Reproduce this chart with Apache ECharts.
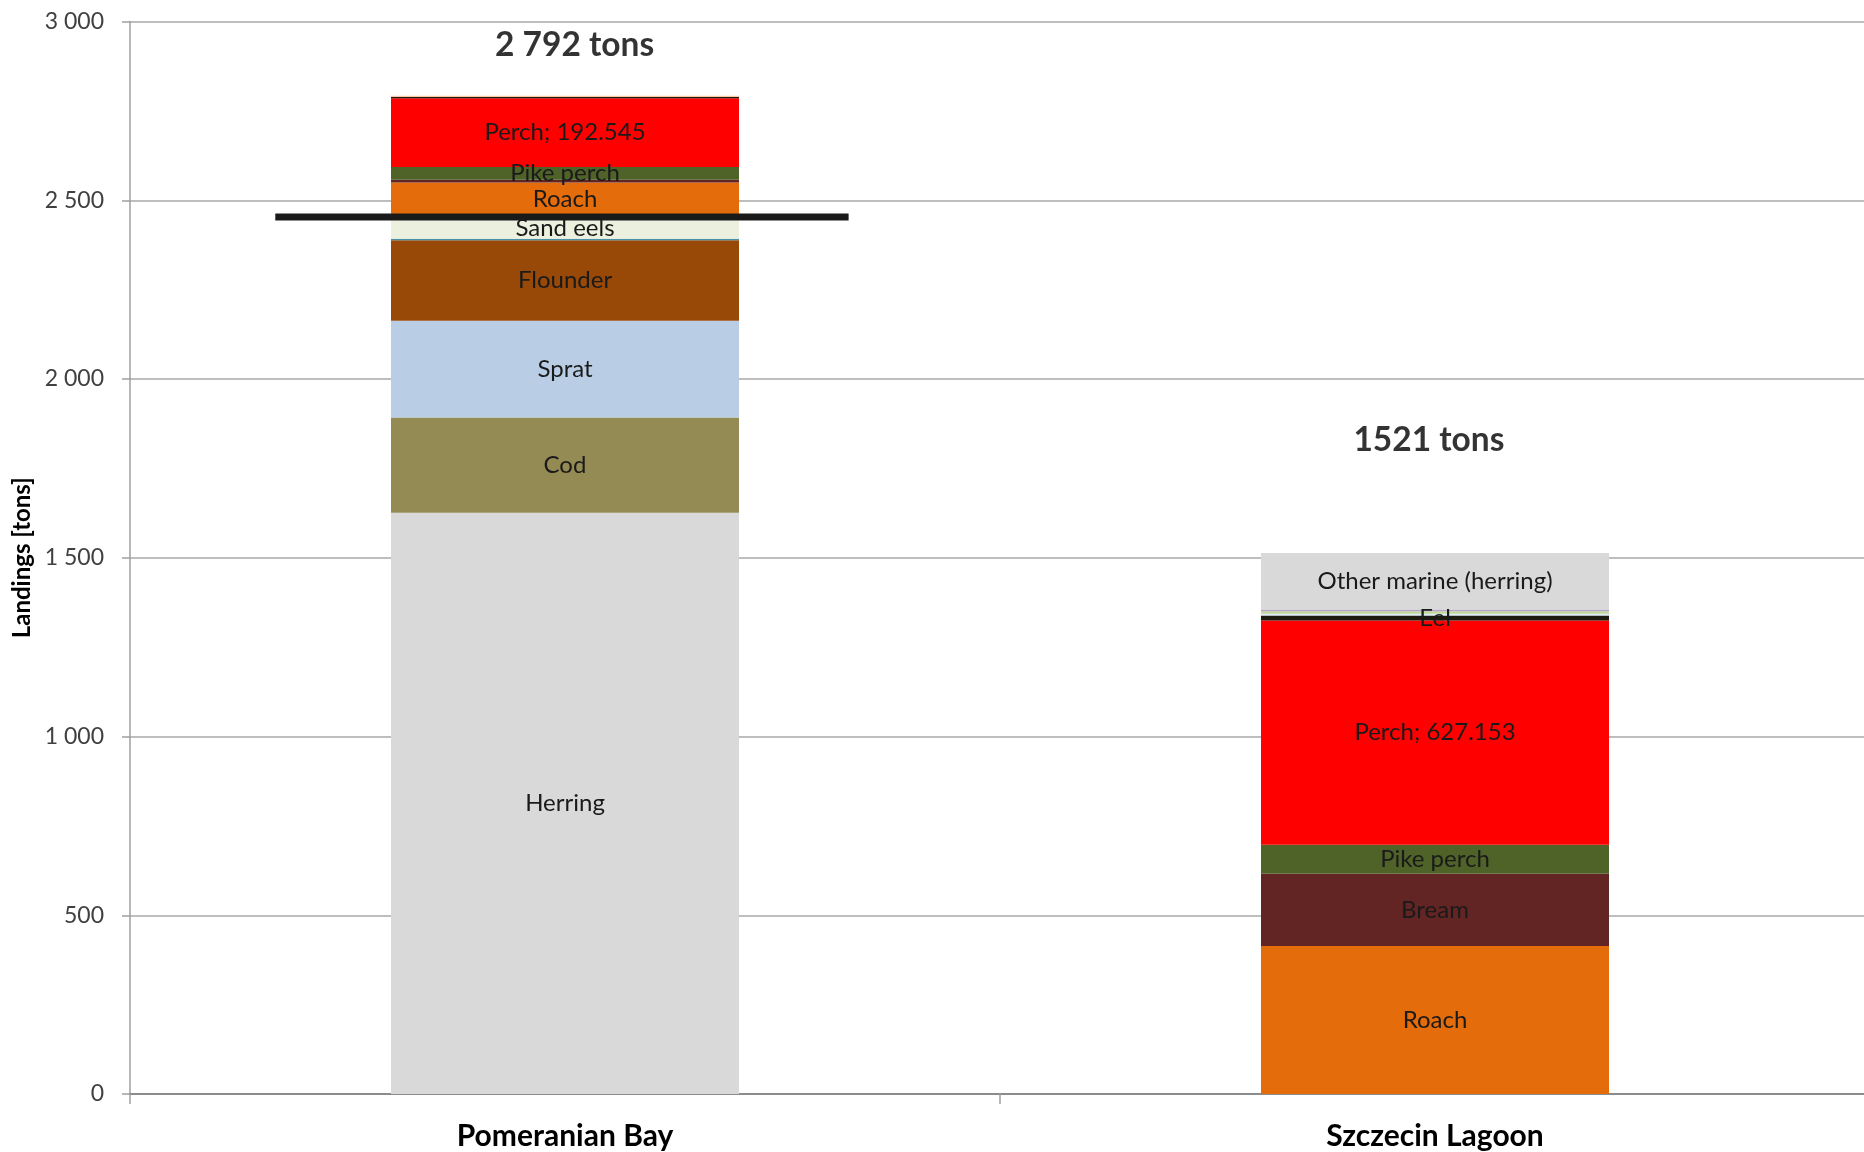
<!DOCTYPE html>
<html>
<head>
<meta charset="utf-8">
<script src="https://cdn.jsdelivr.net/npm/echarts@6/dist/echarts.min.js"></script>
<style>
  html, body { margin: 0; padding: 0; background: #fff; }
  #chart { width: 1864px; height: 1152px; }
</style>
</head>
<body>
<div id="chart"></div>
<script>
// ---- data ----
const categories = ['Pomeranian Bay', 'Szczecin Lagoon'];

const herring     = [1626, 0];
const cod         = [266, 0];
const sprat       = [271, 0];
const flounder    = [225, 0];
const minorBlue   = [4, 0];
const sandEels    = [62, 0];
const roach       = [96, 414];
const bream       = [7, 202];
const pikePerch   = [36, 81];
const perch       = [192.545, 627.153];
const eel         = [3, 14];
const minorCyan   = [0, 5];
const minorGreen  = [0, 7];
const minorPurple = [0, 5];
const otherMarine = [0, 158];
const minorPeach  = [4, 0];

const totalsText   = ['2 792 tons', '1521 tons'];
const totalsAnchor = [[0.511, 2934], [1.493, 1830]];   // [x on category scale 0..2, tons]
const refLine      = [[0.167, 2453], [0.826, 2453]];   // black line, tons
const yTicks       = { min: 0, max: 3000, interval: 500 };

// series table (stack order bottom -> top)
const layers = [
  { name: 'Herring',                values: herring,     labels: ['Herring', ''] },
  { name: 'Cod',                    values: cod,         labels: ['Cod', ''] },
  { name: 'Sprat',                  values: sprat,       labels: ['Sprat', ''] },
  { name: 'Flounder',               values: flounder,    labels: ['Flounder', ''] },
  { name: 'Other (blue)',           values: minorBlue,   labels: ['', ''] },
  { name: 'Sand eels',              values: sandEels,    labels: ['Sand eels', ''] },
  { name: 'Roach',                  values: roach,       labels: ['Roach', 'Roach'] },
  { name: 'Bream',                  values: bream,       labels: ['', 'Bream'] },
  { name: 'Pike perch',             values: pikePerch,   labels: ['Pike perch', 'Pike perch'] },
  { name: 'Perch',                  values: perch,       labels: ['Perch; {v}', 'Perch; {v}'] },
  { name: 'Eel',                    values: eel,         labels: ['', 'Eel'] },
  { name: 'Other (cyan)',           values: minorCyan,   labels: ['', ''] },
  { name: 'Other (green)',          values: minorGreen,  labels: ['', ''] },
  { name: 'Other (purple)',         values: minorPurple, labels: ['', ''] },
  { name: 'Other marine (herring)', values: otherMarine, labels: ['', 'Other marine (herring)'] },
  { name: 'Other (peach)',          values: minorPeach,  labels: ['', ''] }
];

// ---- styles ----
const colors = {
  'Herring': '#d9d9d9', 'Cod': '#948a54', 'Sprat': '#b9cde5', 'Flounder': '#984807',
  'Other (blue)': '#4a90a8', 'Sand eels': '#ebf1de', 'Roach': '#e46c0a', 'Bream': '#632523',
  'Pike perch': '#4f6228', 'Perch': '#ff0000', 'Eel': '#1d1b10', 'Other (cyan)': '#dbeef4',
  'Other (green)': '#c3d69b', 'Other (purple)': '#b3a2c7', 'Other marine (herring)': '#d9d9d9',
  'Other (peach)': '#fac8a4'
};
const FONT = 'Lato, "Open Sans", sans-serif';
const segLabelStyle = { show: true, position: 'inside', fontFamily: FONT, fontSize: 24, color: '#1a1a1a' };

const barSeries = layers.map(l => ({
  name: l.name,
  type: 'bar',
  stack: 'total',
  xAxisIndex: 0,
  barWidth: '40%',
  itemStyle: { color: colors[l.name] },
  emphasis: { disabled: true },
  data: l.values.map((v, i) => {
    const txt = l.labels[i];
    if (!txt || !v) return { value: v, label: { show: false } };
    return { value: v, label: Object.assign({}, segLabelStyle, { formatter: txt.replace('{v}', String(v)) }) };
  })
}));

const option = {
  animation: false,
  backgroundColor: '#ffffff',
  grid: { left: 130, right: -6, top: 21.5, bottom: 58, containLabel: false, outerBoundsMode: 'none' },
  xAxis: [
    {
      type: 'category',
      data: categories,
      axisLine: { show: true, lineStyle: { color: '#8c8c8c', width: 2 } },
      axisTick: { show: true, length: 10, lineStyle: { color: '#a0a0a0', width: 1.5 } },
      axisLabel: { fontFamily: FONT, fontSize: 30, fontWeight: 'bold', color: '#000', margin: 27 },
      splitLine: { show: false }
    },
    { type: 'value', min: 0, max: 2, show: false }
  ],
  yAxis: {
    type: 'value',
    min: yTicks.min, max: yTicks.max, interval: yTicks.interval,
    name: 'Landings [tons]',
    nameLocation: 'middle',
    nameGap: 92,
    nameRotate: 90,
    nameTextStyle: { fontFamily: FONT, fontSize: 24, fontWeight: 'bold', color: '#000' },
    axisLine: { show: true, lineStyle: { color: '#a0a0a0', width: 1.5 } },
    axisTick: { show: true, length: 8, lineStyle: { color: '#a0a0a0', width: 1.5 } },
    axisLabel: {
      fontFamily: FONT, fontSize: 23, color: '#404040', margin: 26,
      formatter: v => String(v).replace(/\B(?=(\d{3})+(?!\d))/g, ' ')
    },
    splitLine: { show: true, lineStyle: { color: '#a8a8a8', width: 1.5 } }
  },
  series: barSeries.concat([
    {
      name: 'ref', type: 'line', xAxisIndex: 1, data: refLine,
      symbol: 'none', lineStyle: { color: '#1a1a1a', width: 7 }, z: 5, silent: true
    },
    {
      name: 'totals', type: 'scatter', xAxisIndex: 1, symbolSize: 0, silent: true,
      data: totalsAnchor.map((p, i) => ({ value: p, label: { formatter: totalsText[i] } })),
      label: { show: true, position: 'inside', fontFamily: FONT, fontSize: 33.5, fontWeight: 'bold', color: '#000' }
    }
  ])
};

const chart = echarts.init(document.getElementById('chart'), null, { renderer: 'canvas' });
chart.setOption(option);
</script>
</body>
</html>
